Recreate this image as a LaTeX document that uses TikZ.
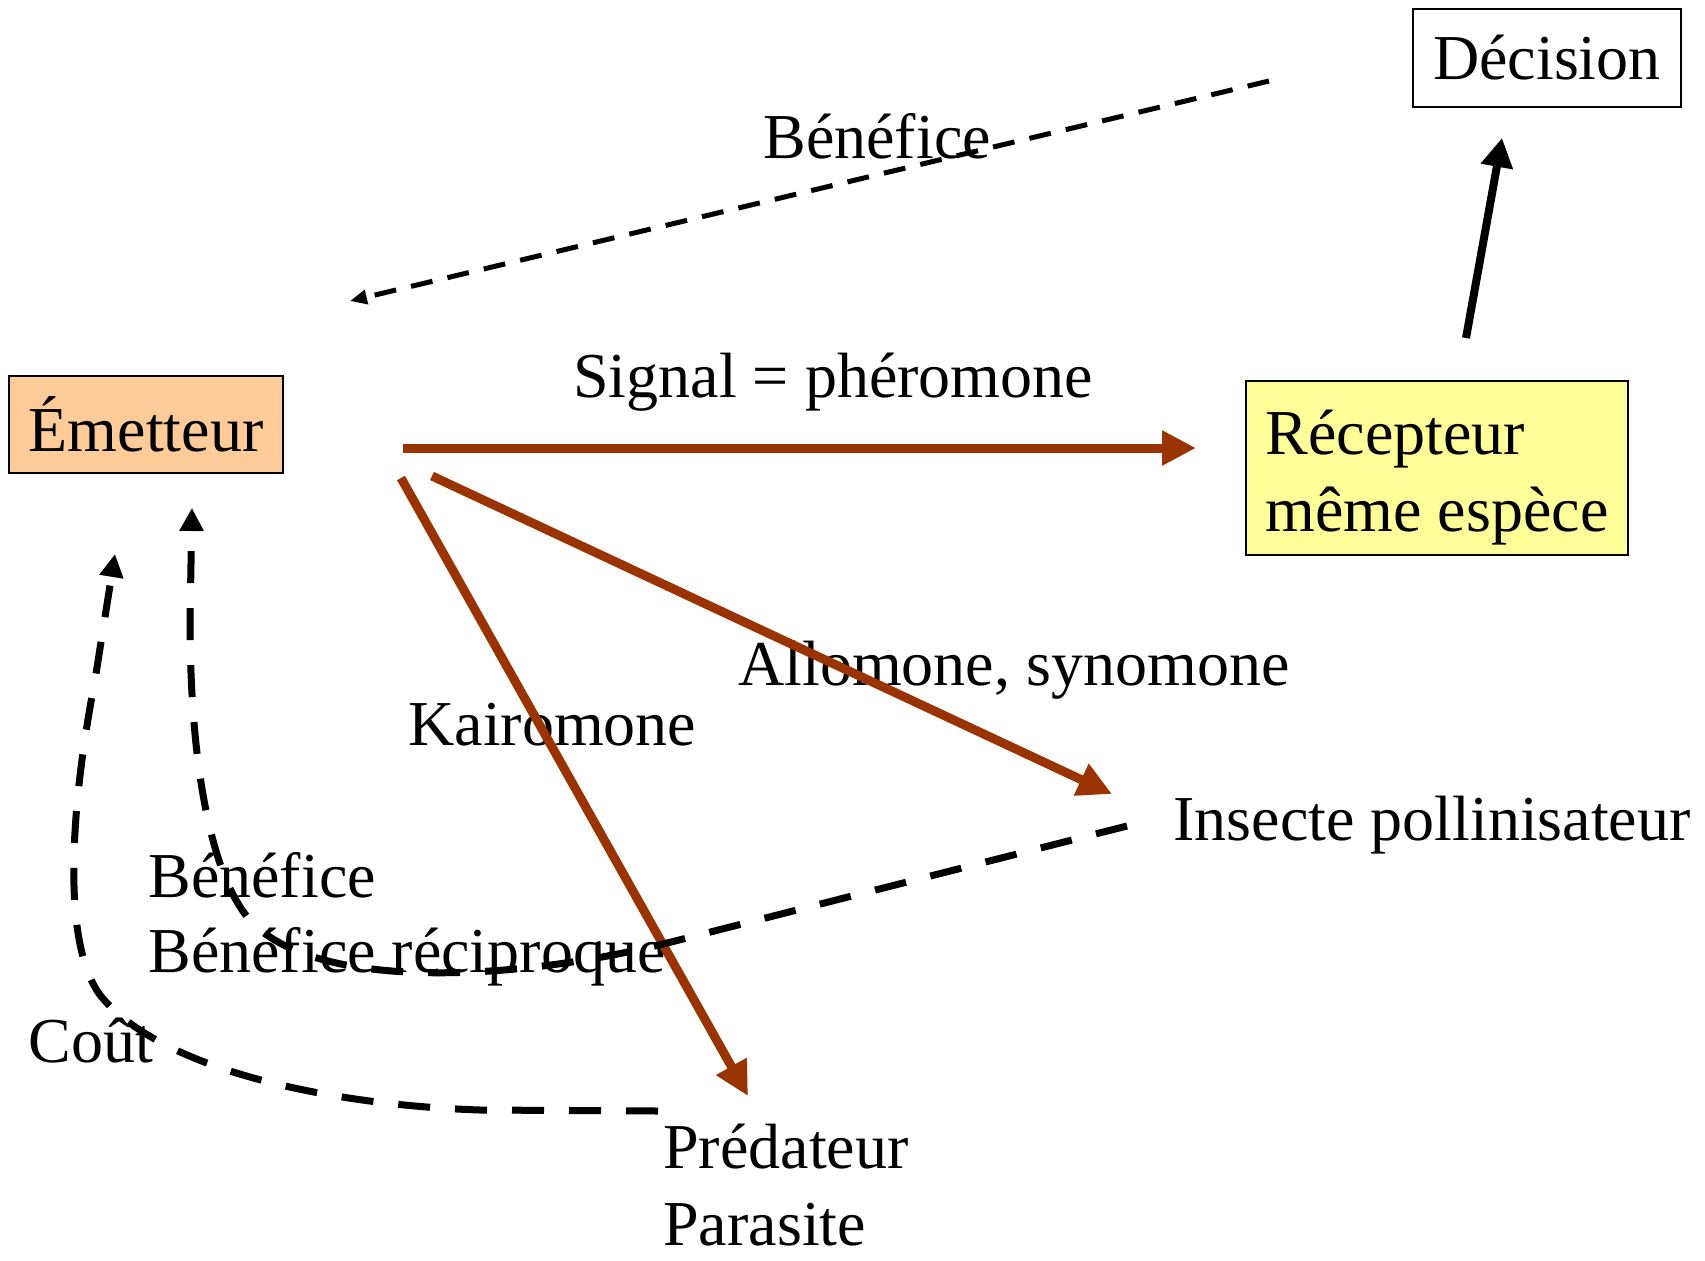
\documentclass[tikz,border=0pt]{standalone}
\usepackage{fontspec}
\setmainfont{Liberation Serif}
\usetikzlibrary{arrows.meta}
\definecolor{brun}{RGB}{153,51,0}
\definecolor{peche}{RGB}{255,204,153}
\definecolor{jaune}{RGB}{255,255,153}

\begin{document}
\begin{tikzpicture}[x=0.5pt,y=-0.5pt,
		font=\fontsize{32}{38.5}\selectfont,
		boite/.style={rectangle,draw=black,line width=0.9pt,inner sep=0pt},
		txt/.style={inner sep=0pt,anchor=base west},
		phero/.style={draw=brun,line width=4.5pt,-{Triangle[length=17pt,width=16.5pt,fill=brun]}},
		retour/.style={line width=3.5pt,dash pattern=on 16pt off 12.5pt,-{Triangle[length=11.5pt,width=11.5pt]}},
		gain/.style={line width=2.5pt,dash pattern=on 11pt off 7.7pt,-{Triangle[length=8.5pt,width=7pt]}}]
		\useasboundingbox (0,0) rectangle (1705,1260);
		\node[boite,fill=peche,minimum width=137pt,minimum height=48.5pt] (emet) at (146,424.5) {Émetteur};
		\node[boite,fill=white,minimum width=134pt,minimum height=49pt] (decis) at (1547,58) {Décision};
		\node[boite,fill=jaune,minimum width=191pt,minimum height=87pt,align=left] (recep) at (1437,468) {\rule{0pt}{31.5pt}Récepteur\\même espèce};
		\node[txt] (ben1) at (763,158) {Bénéfice};
		\node[txt] (sig) at (573,397) {Signal = phéromone};
		\node[txt] (allo) at (738,685) {Allomone, synomone};
		\node[txt] (kairo) at (408,745) {Kairomone};
		\node[txt] (pollin) at (1173,840) {Insecte pollinisateur};
		\node[txt] (ben2) at (148,897) {Bénéfice};
		\node[txt] (ben3) at (148,972) {Bénéfice réciproque};
		\node[txt] (cout) at (28,1062) {Coût};
		\node[txt] (preda) at (663,1168) {Prédateur};
		\node[txt] (para) at (663,1245) {Parasite};
		\coordinate (e1) at (403,448);
		\coordinate (e2) at (432,476);
		\coordinate (e3) at (401,478);
		\coordinate (r1) at (1196,448);
		\coordinate (r2) at (1112,794);
		\coordinate (r3) at (748,1096);
		\coordinate (d0) at (1466,338);
		\coordinate (d1) at (1502,138);
		\coordinate (g0) at (1269,81);
		\coordinate (g1) at (350,301);
		\coordinate (p0) at (1127,826);
		\coordinate (p1) at (192,508);
		\coordinate (c0) at (658,1111);
		\coordinate (c1) at (115,554);
		\draw[gain] (g0) -- (g1);
		\draw[line width=4pt,-{Triangle[length=14.5pt,width=15.5pt]}] (d0) -- (d1);
		\draw[phero] (e1) -- (r1);
		\draw[phero] (e2) -- (r2);
		\draw[phero] (e3) -- (r3);
		\draw[retour] (p0) -- (679,940) .. controls (534,978) and (336,993) .. (259,929) .. controls (213,891) and (190,770) .. (190,620) -- (p1);
		\draw[retour] (c0) -- (480,1110) .. controls (330,1105) and (160,1070) .. (100,995) .. controls (60,940) and (72,800) .. (95,680) -- (c1);
	\end{tikzpicture}
\end{document}
